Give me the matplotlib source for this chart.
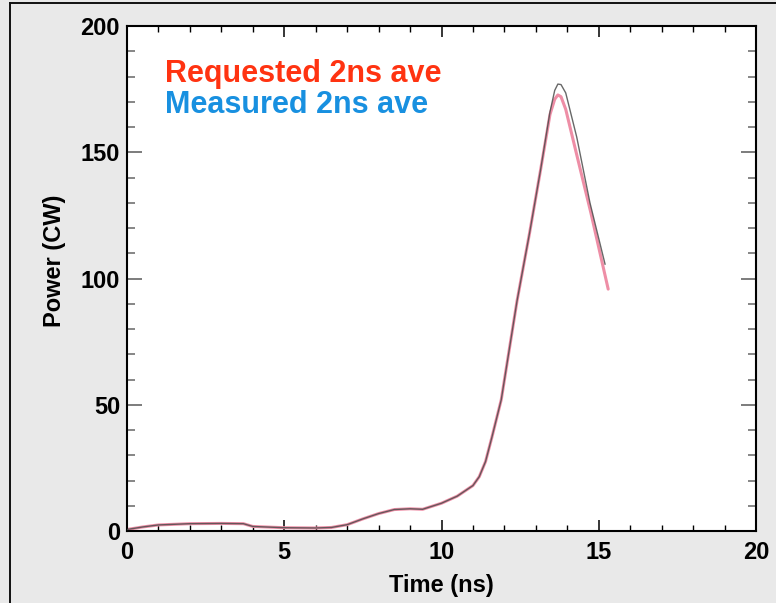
import matplotlib
matplotlib.use("Agg")
import matplotlib.pyplot as plt
from matplotlib.lines import Line2D
from matplotlib.ticker import MultipleLocator

# Requested pulse shape (2 ns average)
time_requested = [0.0, 0.5, 1.0, 2.0, 3.0, 3.7, 4.0, 5.0, 6.0, 6.5, 7.0, 7.5, 8.0, 8.5,
                  9.0, 9.4, 10.0, 10.5, 11.0, 11.2, 11.4, 11.6, 11.9, 12.4, 12.8, 13.15,
                  13.45, 13.6, 13.7, 13.8, 13.95, 14.3, 14.75, 15.3]
power_requested = [0.6, 1.6, 2.4, 2.9, 3.0, 2.9, 1.8, 1.3, 1.2, 1.4, 2.5, 4.8, 6.9, 8.5,
                   8.8, 8.6, 11.0, 13.8, 18.0, 21.5, 27.5, 37.0, 52.0, 91.0, 118.0, 143.0,
                   165.0, 171.0, 172.7, 172.0, 167.0, 149.0, 126.0, 95.8]

# Measured pulse shape (2 ns average)
time_measured = [0.0, 0.5, 1.0, 2.0, 3.0, 3.7, 4.0, 5.0, 6.0, 6.5, 7.0, 7.5, 8.0, 8.5,
                 9.0, 9.4, 10.0, 10.5, 11.0, 11.2, 11.4, 11.6, 11.9, 12.4, 12.8, 13.15,
                 13.45, 13.6, 13.7, 13.8, 13.95, 14.3, 14.72, 15.2]
power_measured = [0.6, 1.6, 2.4, 2.9, 3.0, 2.9, 1.8, 1.3, 1.2, 1.4, 2.5, 4.8, 6.9, 8.5,
                  8.8, 8.6, 11.0, 13.8, 18.0, 21.5, 27.5, 37.0, 52.0, 91.0, 118.0, 143.0,
                  166.0, 174.5, 177.0, 176.8, 173.5, 156.0, 130.0, 105.7]

x_ticks = [0, 5, 10, 15, 20]
y_ticks = [0, 50, 100, 150, 200]

W, H = 776, 603
FONT = ["Liberation Sans", "DejaVu Sans"]
plt.rcParams["font.family"] = FONT

fig = plt.figure(figsize=(W / 100, H / 100), dpi=100)
fig.patch.set_facecolor("#e9e9e9")

# outer frame (left and top edges)
fig.add_artist(Line2D([9.5 / W, 9.5 / W], [0, 1 - 3 / H], color="#111111", lw=1.4,
                      transform=fig.transFigure))
fig.add_artist(Line2D([9.5 / W, 1.0], [1 - 3 / H, 1 - 3 / H], color="#111111", lw=1.4,
                      transform=fig.transFigure))

left, right, top, bottom = 127, 756, 26, 531
ax = fig.add_axes([left / W, 1 - bottom / H, (right - left) / W, (bottom - top) / H])
ax.set_facecolor("white")

ax.plot(time_requested, power_requested, color="#ee8ea6", lw=2.2, solid_capstyle="round",
        solid_joinstyle="round", zorder=2)
ax.plot(time_measured, power_measured, color="#4d4d4d", lw=1.0, alpha=0.85,
        solid_joinstyle="round", zorder=3)

ax.set_xlim(0, 20)
ax.set_ylim(0, 200)
ax.set_xticks(x_ticks)
ax.set_yticks(y_ticks)
ax.xaxis.set_minor_locator(MultipleLocator(1))
ax.yaxis.set_minor_locator(MultipleLocator(10))

for sp in ax.spines.values():
    sp.set_linewidth(1.5)
    sp.set_color("black")

ax.tick_params(axis="x", which="major", direction="in", top=True, bottom=True,
               length=8, width=1.1, color="black", pad=7)
ax.tick_params(axis="x", which="minor", direction="in", top=True, bottom=True,
               length=4.3, width=1.0, color="black")
ax.tick_params(axis="y", which="major", direction="in", left=True, right=True,
               length=10.8, width=1.2, color="#666666", pad=5)
ax.tick_params(axis="y", which="minor", direction="in", left=True, right=True,
               length=5.8, width=1.1, color="#666666")

for lab in ax.get_xticklabels() + ax.get_yticklabels():
    lab.set_fontsize(17)
    lab.set_fontweight("bold")

ax.text(1.21, 177.8, "Requested 2ns ave", color="#ff3311", fontsize=22, fontweight="bold",
        va="baseline", ha="left")
ax.text(1.21, 165.5, "Measured 2ns ave", color="#1890e0", fontsize=22, fontweight="bold",
        va="baseline", ha="left")

fig.text(441 / W, 1 - 592 / H, "Time (ns)", fontsize=17, fontweight="bold",
         ha="center", va="baseline")
fig.text(55 / W, 1 - 261 / H, "Power (CW)", fontsize=17, fontweight="bold",
         ha="center", va="center", rotation=90)

fig.savefig("out.png", dpi=100, facecolor=fig.get_facecolor())
